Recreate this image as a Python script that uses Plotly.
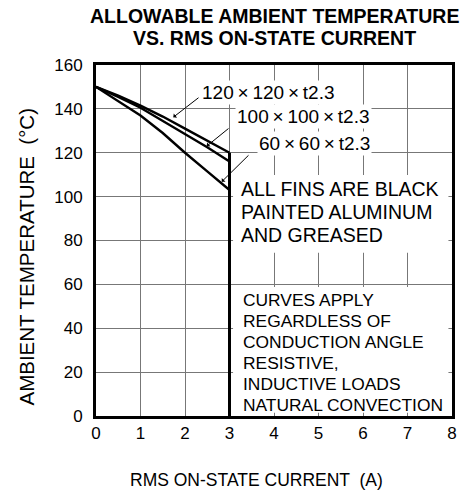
import plotly.graph_objects as go

# RMS on-state current (A) and allowable ambient temperature (°C) per heat-sink fin
current = [0, 0.5, 1, 1.5, 2, 2.5, 3]
temp_fin_120 = [150, 146, 141.5, 136.5, 131, 125.5, 120]
temp_fin_100 = [150, 145.5, 140.5, 134.5, 128.5, 122.5, 116]
temp_fin_60 = [150, 143.5, 137, 129, 120, 111.5, 103]

fin_labels = ["120\u2009×\u2009120\u2009×\u2009t2.3",
              "100\u2009×\u2009100\u2009×\u2009t2.3",
              "60\u2009×\u200960\u2009×\u2009t2.3"]
x_ticks = [0, 1, 2, 3, 4, 5, 6, 7, 8]
y_ticks = [0, 20, 40, 60, 80, 100, 120, 140, 160]

note_fins = ["ALL FINS ARE BLACK", "PAINTED ALUMINUM", "AND GREASED"]
note_conditions = ["CURVES APPLY", "REGARDLESS OF", "CONDUCTION ANGLE",
                   "RESISTIVE,", "INDUCTIVE LOADS", "NATURAL CONVECTION"]

FONT = "Arial, 'Liberation Sans', sans-serif"
W, H = 468, 494
ML, MR, MT, MB = 96, 16, 65, 78
PW, PH = W - ML - MR, H - MT - MB


def paper_x(px):
    return (px - ML) / PW


def paper_y(py):
    return (H - MB - py) / PH


fig = go.Figure()

curve_style = dict(mode="lines", line=dict(color="black", width=2.4),
                   showlegend=False, hoverinfo="skip")
for series in (temp_fin_120, temp_fin_100, temp_fin_60):
    fig.add_trace(go.Scatter(x=current, y=series, **curve_style))

# maximum current limit: drop from the end of the upper curve to zero
fig.add_trace(go.Scatter(x=[current[-1], current[-1]], y=[temp_fin_120[-1], 0],
                         mode="lines", line=dict(color="black", width=3),
                         showlegend=False, hoverinfo="skip"))

shapes = [
    # white panels behind the notes (above grid, below data)
    dict(type="rect", xref="x", yref="y", x0=3.08, x1=7.92, y0=74.4, y1=109.9,
         fillcolor="white", line=dict(width=0), layer="between"),
    dict(type="rect", xref="x", yref="y", x0=3.08, x1=7.92, y0=1.5, y1=58.8,
         fillcolor="white", line=dict(width=0), layer="between"),
]

annotations = []

# leader arrows from labels to curves
leaders = [
    (1.737, 136.2, 2.337, 145.6),
    (2.488, 123.0, 3.011, 131.6),
    (2.825, 106.8, 3.461, 119.5),
]
for tx, ty, sx, sy in leaders:
    annotations.append(dict(x=tx, y=ty, ax=sx, ay=sy, xref="x", yref="y",
                            axref="x", ayref="y", text="", showarrow=True,
                            arrowhead=1, arrowsize=0.9, arrowwidth=1,
                            arrowcolor="black"))

label_pos = [(2.337, 147.6), (3.124, 136.3), (3.625, 124.2)]
for text, (lx, ly) in zip(fin_labels, label_pos):
    annotations.append(dict(x=lx, y=ly, xref="x", yref="y", text=text,
                            showarrow=False, xanchor="left", yanchor="middle",
                            bgcolor="white", borderpad=1,
                            font=dict(family=FONT, size=19, color="black")))

for i, line in enumerate(note_fins):
    annotations.append(dict(x=paper_x(239), y=paper_y(188.7 + 23.3 * i),
                            xref="paper", yref="paper", text=line,
                            showarrow=False, xanchor="left", yanchor="middle",
                            font=dict(family=FONT, size=19.5, color="black")))

for i, line in enumerate(note_conditions):
    annotations.append(dict(x=paper_x(240.5), y=paper_y(300.3 + 21 * i),
                            xref="paper", yref="paper", text=line,
                            showarrow=False, xanchor="left", yanchor="middle",
                            font=dict(family=FONT, size=17.4, color="black")))

# title, two lines
for text, py in (("ALLOWABLE AMBIENT TEMPERATURE", 15.5),
                 ("VS. RMS ON-STATE CURRENT", 38.5)):
    annotations.append(dict(x=paper_x(274), y=paper_y(py), xref="paper",
                            yref="paper", text="<b>" + text + "</b>",
                            showarrow=False, xanchor="center", yanchor="middle",
                            font=dict(family=FONT, size=19.5, color="black")))

annotations.append(dict(x=paper_x(256), y=paper_y(480), xref="paper",
                        yref="paper", text="RMS ON-STATE CURRENT  (A)",
                        showarrow=False, xanchor="center", yanchor="middle",
                        font=dict(family=FONT, size=17.5, color="black")))
annotations.append(dict(x=paper_x(25.5), y=paper_y(257), xref="paper",
                        yref="paper", text="AMBIENT TEMPERATURE  (°C)",
                        textangle=-90, showarrow=False, xanchor="center",
                        yanchor="middle",
                        font=dict(family=FONT, size=20.5, color="black")))

axis_common = dict(showgrid=True, gridcolor="#777777", gridwidth=1,
                   showline=True, linecolor="black", linewidth=3, mirror=True,
                   ticks="", zeroline=False,
                   tickfont=dict(family=FONT, size=17, color="black"))

fig.update_layout(
    width=W, height=H,
    margin=dict(l=ML, r=MR, t=MT, b=MB),
    paper_bgcolor="white", plot_bgcolor="white",
    showlegend=False,
    xaxis=dict(range=[0, 8], tickvals=x_ticks, ticklabelstandoff=0, **axis_common),
    yaxis=dict(range=[0, 160], tickvals=y_ticks, ticklabelstandoff=7, **axis_common),
    shapes=shapes,
    annotations=annotations,
)

fig.write_html("out.html")
